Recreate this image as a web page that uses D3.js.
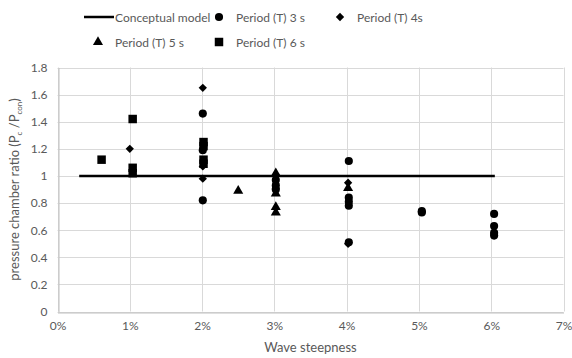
<!DOCTYPE html>
<html>
<head>
<meta charset="utf-8">
<script src="https://cdn.jsdelivr.net/npm/d3@7"></script>
<style>
  html, body { margin: 0; padding: 0; background: #fff; }
  text { font-family: Lato, "Noto Sans", sans-serif; fill: #595959; }
</style>
</head>
<body>
<svg id="chart" width="572" height="358"></svg>
<script>
// Wave steepness (as fraction) and pressure chamber ratio per wave period
const t3Steepness = [0.0201, 0.0201, 0.0201, 0.0302, 0.0302, 0.0302, 0.0403, 0.0403, 0.0403, 0.0403, 0.0403, 0.0504, 0.0504, 0.0604, 0.0604, 0.0604, 0.0604];
const t3Ratio     = [1.46, 1.19, 0.82, 0.97, 0.93, 0.90, 1.11, 0.84, 0.81, 0.78, 0.51, 0.74, 0.73, 0.72, 0.63, 0.58, 0.56];

const t4Steepness = [0.0100, 0.0201, 0.0201, 0.0201, 0.0302, 0.0302, 0.0402, 0.0402];
const t4Ratio     = [1.20, 1.65, 1.07, 0.98, 1.00, 0.91, 0.95, 0.50];

const t5Steepness = [0.0250, 0.0302, 0.0302, 0.0302, 0.0302, 0.0402];
const t5Ratio     = [0.89, 1.02, 0.87, 0.77, 0.73, 0.91];

const t6Steepness = [0.0061, 0.0104, 0.0104, 0.0104, 0.0202, 0.0202, 0.0202, 0.0202];
const t6Ratio     = [1.12, 1.42, 1.06, 1.02, 1.25, 1.22, 1.12, 1.09];

// Conceptual model: constant ratio of 1
const modelSteepness = [0.003, 0.0605];
const modelRatio     = [1, 1];

const xTicks = [0, 0.01, 0.02, 0.03, 0.04, 0.05, 0.06, 0.07];
const yTicks = [0, 0.2, 0.4, 0.6, 0.8, 1, 1.2, 1.4, 1.6, 1.8];

const svg = d3.select("#chart");
const margin = { left: 57.5, right: 8.5, top: 67.5, bottom: 46.5 };
const W = 572, H = 358;

const x = d3.scaleLinear().domain([0, 0.07]).range([margin.left, W - margin.right]);
const y = d3.scaleLinear().domain([0, 1.8]).range([H - margin.bottom, margin.top]);

// gridlines
const grid = svg.append("g");
grid.selectAll("line.h").data(yTicks).join("line")
  .attr("x1", x(0)).attr("x2", x(0.07))
  .attr("y1", d => Math.round(y(d)) + 0.5).attr("y2", d => Math.round(y(d)) + 0.5)
  .attr("stroke", "#d9d9d9").attr("stroke-width", 1);
grid.selectAll("line.v").data(xTicks).join("line")
  .attr("y1", y(0)).attr("y2", y(1.8))
  .attr("x1", d => Math.round(x(d)) + 0.5).attr("x2", d => Math.round(x(d)) + 0.5)
  .attr("stroke", "#d9d9d9").attr("stroke-width", 1);

// axes
const xAxis = d3.axisBottom(x).tickValues(xTicks).tickFormat(d3.format(".0%")).tickSize(0).tickPadding(9);
svg.append("g").attr("transform", `translate(0,${Math.round(y(0)) + 0.5})`).call(xAxis)
  .call(g => g.select(".domain").attr("stroke", "#bfbfbf"))
  .call(g => g.selectAll("text").style("font-size", "12px").attr("fill", "#595959"));

const yAxis = d3.axisLeft(y).tickValues(yTicks).tickFormat(d => d3.format("")(+d.toFixed(1))).tickSize(0).tickPadding(11);
svg.append("g").attr("transform", `translate(${Math.round(x(0)) + 0.5},0)`).call(yAxis)
  .call(g => g.select(".domain").attr("stroke", "#bfbfbf"))
  .call(g => g.selectAll("text").style("font-size", "12px").attr("fill", "#595959"));

// axis titles
svg.append("text").attr("x", (x(0) + x(0.07)) / 2).attr("y", 352)
  .attr("text-anchor", "middle").style("font-size", "13px").text("Wave steepness");

const yt = svg.append("text").attr("transform", `translate(19,${(y(0) + y(1.8)) / 2}) rotate(-90)`)
  .attr("text-anchor", "middle").style("font-size", "13px");
yt.append("tspan").text("pressure chamber ratio (P");
yt.append("tspan").attr("dy", 3).style("font-size", "8px").text("c");
yt.append("tspan").attr("dy", -3).text(" /P");
yt.append("tspan").attr("dy", 3).style("font-size", "8px").text("con");
yt.append("tspan").attr("dy", -3).text(")");

// conceptual model line
svg.append("path")
  .attr("d", d3.line().x((d, i) => x(modelSteepness[i])).y((d, i) => y(modelRatio[i]))(modelRatio))
  .attr("stroke", "#000").attr("stroke-width", 2.5).attr("fill", "none");

// scatter series
const series = [
  { sx: t3Steepness, sy: t3Ratio, shape: d3.symbolCircle, size: 52 },
  { sx: t4Steepness, sy: t4Ratio, shape: d3.symbolDiamond2, size: 44 },
  { sx: t5Steepness, sy: t5Ratio, shape: d3.symbolTriangle, size: 44 },
  { sx: t6Steepness, sy: t6Ratio, shape: d3.symbolSquare, size: 72 }
];
series.forEach(s => {
  svg.append("g").selectAll("path").data(s.sy).join("path")
    .attr("d", d3.symbol().type(s.shape).size(s.size))
    .attr("transform", (d, i) => `translate(${x(s.sx[i])},${y(d)})`)
    .attr("fill", "#000");
});

// legend
const legend = svg.append("g").style("font-size", "12px");
legend.append("line").attr("x1", 84).attr("x2", 114).attr("y1", 17).attr("y2", 17)
  .attr("stroke", "#000").attr("stroke-width", 2.5);
legend.append("text").attr("x", 115).attr("y", 21.5).text("Conceptual model");
const legItems = [
  { shape: d3.symbolCircle, size: 52, cx: 219, cy: 17, tx: 236, label: "Period (T) 3 s" },
  { shape: d3.symbolDiamond2, size: 44, cx: 340, cy: 17, tx: 357, label: "Period (T) 4s" },
  { shape: d3.symbolTriangle, size: 44, cx: 98, cy: 42, tx: 115, label: "Period (T) 5 s" },
  { shape: d3.symbolSquare, size: 72, cx: 219, cy: 42, tx: 236, label: "Period (T) 6 s" }
];
legItems.forEach(it => {
  legend.append("path").attr("d", d3.symbol().type(it.shape).size(it.size)())
    .attr("transform", `translate(${it.cx},${it.cy})`).attr("fill", "#000");
  legend.append("text").attr("x", it.tx).attr("y", it.cy + 4.5).text(it.label);
});
</script>
</body>
</html>
